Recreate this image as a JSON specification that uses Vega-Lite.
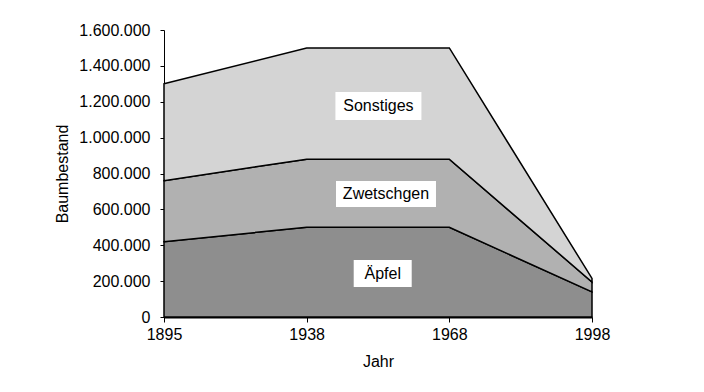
{
  "$schema": "https://vega.github.io/schema/vega-lite/v6.json",
  "width": 428,
  "height": 287,
  "autosize": "none",
  "padding": {"left": 164, "top": 30, "right": 112, "bottom": 75},
  "background": "white",
  "config": {
    "view": {"stroke": null},
    "font": "Liberation Sans",
    "locale": {"number": {"decimal": ",", "thousands": ".", "grouping": [3], "currency": ["", " €"]}},
    "axis": {"labelFont": "Liberation Sans", "titleFont": "Liberation Sans", "labelFontSize": 16, "titleFontSize": 16, "labelColor": "black", "titleColor": "black", "titleFontWeight": "normal", "domainColor": "black", "tickColor": "black", "grid": false, "zindex": 1}
  },
  "datasets": {
    "bestand": [
      {"Jahr": "1895", "Sorte": "Äpfel", "k": 1, "Baumbestand": 420000},
      {"Jahr": "1938", "Sorte": "Äpfel", "k": 1, "Baumbestand": 500000},
      {"Jahr": "1968", "Sorte": "Äpfel", "k": 1, "Baumbestand": 500000},
      {"Jahr": "1998", "Sorte": "Äpfel", "k": 1, "Baumbestand": 140000},
      {"Jahr": "1895", "Sorte": "Zwetschgen", "k": 2, "Baumbestand": 340000},
      {"Jahr": "1938", "Sorte": "Zwetschgen", "k": 2, "Baumbestand": 380000},
      {"Jahr": "1968", "Sorte": "Zwetschgen", "k": 2, "Baumbestand": 380000},
      {"Jahr": "1998", "Sorte": "Zwetschgen", "k": 2, "Baumbestand": 55000},
      {"Jahr": "1895", "Sorte": "Sonstiges", "k": 3, "Baumbestand": 540000},
      {"Jahr": "1938", "Sorte": "Sonstiges", "k": 3, "Baumbestand": 620000},
      {"Jahr": "1968", "Sorte": "Sonstiges", "k": 3, "Baumbestand": 620000},
      {"Jahr": "1998", "Sorte": "Sonstiges", "k": 3, "Baumbestand": 20000}
    ],
    "labels": [
      {"label": "Sonstiges", "pos": 1.503, "y": 1176000},
      {"label": "Zwetschgen", "pos": 1.556, "y": 686000},
      {"label": "Äpfel", "pos": 1.533, "y": 242000}
    ]
  },
  "layer": [
    {
      "data": {"name": "bestand"},
      "mark": {"type": "area", "stroke": "black", "strokeWidth": 1.5, "strokeJoin": "miter", "opacity": 1},
      "encoding": {
        "x": {"field": "Jahr", "type": "ordinal", "scale": {"type": "point", "padding": 0},
          "axis": {"title": "Jahr", "labelAngle": 0, "domainWidth": 2, "tickSize": 5, "labelPadding": 4, "titlePadding": 11, "labelFlush": false, "labelOverlap": false}},
        "y": {"field": "Baumbestand", "type": "quantitative", "stack": "zero",
          "scale": {"domain": [0, 1600000], "nice": false},
          "axis": {"title": "Baumbestand", "format": ",d", "values": [0, 200000, 400000, 600000, 800000, 1000000, 1200000, 1400000, 1600000], "tickSize": 4, "labelPadding": 10, "titlePadding": 8, "labelOverlap": false, "labelFlush": false, "labelBound": false}},
        "color": {"field": "Sorte", "type": "nominal",
          "scale": {"domain": ["Äpfel", "Zwetschgen", "Sonstiges"], "range": ["#8e8e8e", "#b1b1b1", "#d4d4d4"]},
          "legend": null},
        "order": {"field": "k", "type": "quantitative"}
      }
    },
    {
      "data": {"name": "labels"},
      "mark": {"type": "point", "filled": true, "fill": "white", "opacity": 1, "size": 4, "strokeWidth": 0},
      "encoding": {
        "x": {"field": "pos", "type": "quantitative", "scale": {"domain": [0, 3]}, "axis": null},
        "y": {"field": "y", "type": "quantitative",
          "axis": {"title": "Baumbestand", "format": ",d", "values": [0, 200000, 400000, 600000, 800000, 1000000, 1200000, 1400000, 1600000], "tickSize": 4, "labelPadding": 10, "titlePadding": 8, "labelOverlap": false, "labelFlush": false, "labelBound": false}},
        "shape": {"field": "label", "type": "nominal",
          "scale": {"domain": ["Sonstiges", "Zwetschgen", "Äpfel"], "range": ["M-43,-14H43V14H-43Z", "M-50,-13H50V13H-50Z", "M-29,-13.5H29V13.5H-29Z"]},
          "legend": null}
      }
    },
    {
      "data": {"name": "labels"},
      "mark": {"type": "text", "font": "Liberation Sans", "fontSize": 16, "color": "black", "align": "center", "baseline": "middle"},
      "encoding": {
        "x": {"field": "pos", "type": "quantitative", "scale": {"domain": [0, 3]}, "axis": null},
        "y": {"field": "y", "type": "quantitative",
          "axis": {"title": "Baumbestand", "format": ",d", "values": [0, 200000, 400000, 600000, 800000, 1000000, 1200000, 1400000, 1600000], "tickSize": 4, "labelPadding": 10, "titlePadding": 8, "labelOverlap": false, "labelFlush": false, "labelBound": false}},
        "text": {"field": "label"}
      }
    }
  ],
  "resolve": {"scale": {"x": "independent"}}
}
